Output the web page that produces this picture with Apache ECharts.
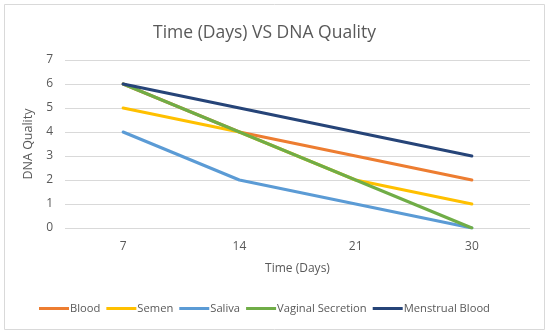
<!DOCTYPE html>
<html><head><meta charset="utf-8">
<script src="https://cdn.jsdelivr.net/npm/echarts@6/dist/echarts.min.js"></script>
<style>html,body{margin:0;padding:0;background:#fff}#c{width:550px;height:334px}</style>
</head><body><div id="c"></div>
<script>
var categories = ['7', '14', '21', '30'];
var seriesNames = ['Blood', 'Semen', 'Saliva', 'Vaginal Secretion', 'Menstrual Blood'];
var blood = [6, 4, 3, 2];
var semen = [5, 4, 2, 1];
var saliva = [4, 2, 1, 0];
var vaginal = [6, 4, 2, 0];
var menstrual = [6, 5, 4, 3];
var colors = ['#ED7D31', '#FFC000', '#5B9BD5', '#70AD47', '#264478'];
var values = [blood, semen, saliva, vaginal, menstrual];
var font = "'Open Sans', 'Liberation Sans', sans-serif";
var chart = echarts.init(document.getElementById('c'));
chart.setOption({
  animation: false,
  color: colors,
  graphic: [{type: 'rect', shape: {x: 4.5, y: 4.5, width: 540, height: 325}, style: {fill: 'none', stroke: '#d9d9d9', lineWidth: 1}, z: -1}],
  title: {text: 'Time (Days) VS DNA Quality', left: 148, top: 19,
    textStyle: {fontFamily: font, fontSize: 17.5, fontWeight: 'normal', color: '#595959'}},
  grid: {left: 65, right: 20, top: 60, bottom: 106, containLabel: false},
  legend: {bottom: 15, left: 34, itemWidth: 30, itemHeight: 3, itemGap: 6,
    icon: 'rect', textStyle: {fontFamily: font, fontSize: 11.2, color: '#595959', padding: [0,0,0,-4]},
    data: seriesNames},
  xAxis: {type: 'category', data: categories, boundaryGap: true,
    name: 'Time (Days)', nameLocation: 'middle', nameGap: 35,
    nameTextStyle: {fontFamily: font, fontSize: 12, color: '#595959'},
    axisLine: {show: false}, axisTick: {show: false},
    axisLabel: {fontFamily: font, fontSize: 12, color: '#595959', margin: 13}},
  yAxis: {type: 'value', min: 0, max: 7, interval: 1,
    name: 'DNA Quality', nameLocation: 'middle', nameGap: 27, nameRotate: 90,
    nameTextStyle: {fontFamily: font, fontSize: 12.5, color: '#595959'},
    axisLine: {show: false}, axisTick: {show: false},
    axisLabel: {fontFamily: font, fontSize: 12, color: '#595959', margin: 12},
    splitLine: {lineStyle: {color: '#d9d9d9', width: 1}}},
  series: seriesNames.map(function (n, i) {
    return {name: n, type: 'line', data: values[i], symbol: 'none',
      lineStyle: {width: 3, color: colors[i], cap: 'round'}};
  })
});
</script></body></html>
